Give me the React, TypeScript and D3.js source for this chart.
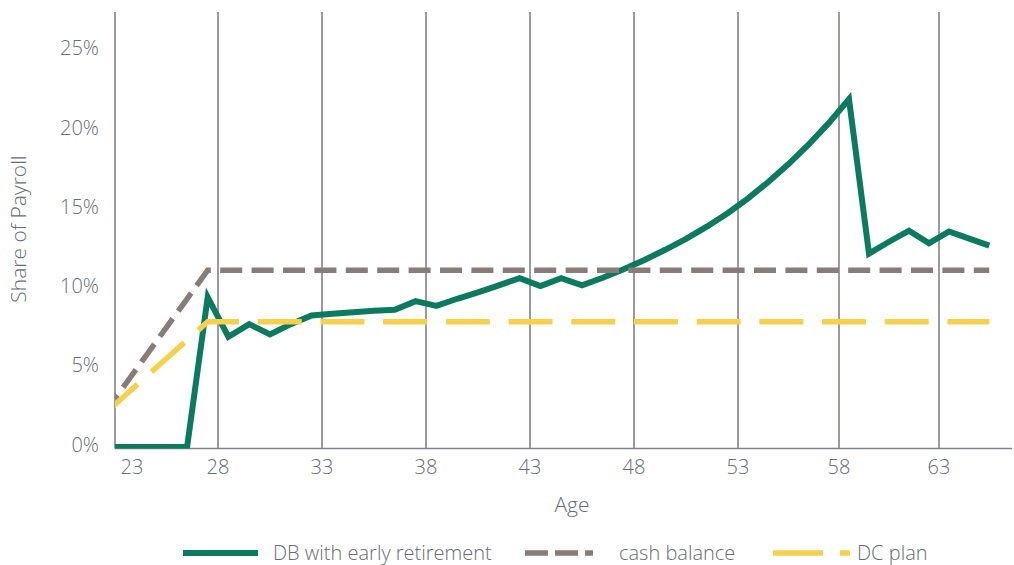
import React, { useEffect, useRef } from 'react';
import * as d3 from 'd3';

// age 22 sits just left of the plot and is clipped, the lines enter from the edge
const ages = [22, 23, 24, 25, 26, 27, 28, 29, 30, 31, 32, 33, 34, 35, 36, 37, 38, 39, 40, 41, 42, 43,
  44, 45, 46, 47, 48, 49, 50, 51, 52, 53, 54, 55, 56, 57, 58, 59, 60, 61, 62, 63, 64, 65];

const dbEarly = [-0.15, -0.15, -0.15, -0.15, -0.15, 9.3, 6.8, 7.6, 6.95, 7.6, 8.15, 8.25, 8.35, 8.45, 8.5,
  9.05, 8.75, 9.2, 9.6, 10.05, 10.5, 10.0, 10.5, 10.05, 10.53, 11.06, 11.65, 12.29, 12.98, 13.75, 14.6,
  15.54, 16.57, 17.7, 18.94, 20.3, 21.8, 12.05, 12.8, 13.5, 12.7, 13.45, 13.0, 12.55];

const cashBalance = [2.0, 3.8, 5.6, 7.4, 9.2, 11, 11, 11, 11, 11, 11, 11, 11, 11, 11, 11, 11, 11, 11, 11,
  11, 11, 11, 11, 11, 11, 11, 11, 11, 11, 11, 11, 11, 11, 11, 11, 11, 11, 11, 11, 11, 11, 11, 11];

const dcPlan = [1.95, 3.11, 4.27, 5.43, 6.59, 7.75, 7.75, 7.75, 7.75, 7.75, 7.75, 7.75, 7.75, 7.75, 7.75,
  7.75, 7.75, 7.75, 7.75, 7.75, 7.75, 7.75, 7.75, 7.75, 7.75, 7.75, 7.75, 7.75, 7.75, 7.75, 7.75, 7.75,
  7.75, 7.75, 7.75, 7.75, 7.75, 7.75, 7.75, 7.75, 7.75, 7.75, 7.75, 7.75];

const ageTicks = [23, 28, 33, 38, 43, 48, 53, 58, 63];
const shareTicks = [0, 5, 10, 15, 20, 25];

const seriesNames = ['DB with early retirement', 'cash balance', 'DC plan'];

const App = () => {
  const ref = useRef<SVGSVGElement | null>(null);

  useEffect(() => {
    document.body.style.margin = '0';
    if (!ref.current) return;
    const width = 1014;
    const height = 565;
    const left = 115, right = 1012, top = 12, bottom = 448.5;
    const font = "'Open Sans', sans-serif";
    const textColor = '#686c74';
    const gridColor = '#7f838b';

    const svg = d3.select(ref.current);
    svg.selectAll('*').remove();
    svg.attr('width', width).attr('height', height);

    // ages sit in the middle of their yearly slot, gridlines on slot edges
    // (the original axis is slightly uneven, so the scale is piecewise)
    const x = d3.scaleLinear()
      .domain([22.5, 27.5, 32.5, 37.5, 42.5, 47.5, 52.5, 57.5, 62.5, 66.13])
      .range([left, 218, 322, 426, 530, 634, 738, 839, 939, right]);
    const y = d3.scaleLinear().domain([-0.25, 27.3]).range([bottom, top]);

    svg.append('defs').append('clipPath').attr('id', 'plot')
      .append('rect').attr('x', left).attr('y', 0).attr('width', right - left).attr('height', bottom);

    // vertical gridlines
    svg.append('g').selectAll('line')
      .data(ageTicks)
      .enter()
      .append('line')
      .attr('x1', d => x(d - 0.5))
      .attr('x2', d => x(d - 0.5))
      .attr('y1', top)
      .attr('y2', bottom)
      .attr('stroke', gridColor)
      .attr('stroke-width', 1.6);

    svg.append('line')
      .attr('x1', left).attr('x2', right)
      .attr('y1', bottom).attr('y2', bottom)
      .attr('stroke', gridColor)
      .attr('stroke-width', 1.6);

    // x tick labels
    svg.append('g').selectAll('text')
      .data(ageTicks)
      .enter()
      .append('text')
      .attr('x', d => Math.max(x(d - 0.5), left + 17))
      .attr('y', 474)
      .attr('text-anchor', 'middle')
      .attr('fill', textColor)
      .style('font-family', font)
      .style('font-weight', 300)
      .style('font-size', '20px')
      .text(d => d);

    // y tick labels
    svg.append('g').selectAll('text')
      .data(shareTicks)
      .enter()
      .append('text')
      .attr('x', 99)
      .attr('y', d => y(d))
      .attr('dy', '0.35em')
      .attr('text-anchor', 'end')
      .attr('fill', textColor)
      .style('font-family', font)
      .style('font-weight', 300)
      .style('font-size', '20px')
      .text(d => d + '%');

    svg.append('text')
      .attr('x', 572)
      .attr('y', 511.5)
      .attr('text-anchor', 'middle')
      .attr('fill', textColor)
      .style('font-family', font)
      .style('font-weight', 300)
      .style('font-size', '21px')
      .text('Age');

    svg.append('text')
      .attr('transform', 'translate(25.5,229) rotate(-90)')
      .attr('text-anchor', 'middle')
      .attr('fill', textColor)
      .style('font-family', font)
      .style('font-weight', 300)
      .style('font-size', '21px')
      .text('Share of Payroll');

    const series = [
      { name: seriesNames[0], values: dbEarly, color: '#0b7a5f', width: 6, dash: null, legendDash: null, lx: 183, lw: 75, tx: 273 },
      { name: seriesNames[1], values: cashBalance, color: '#877c78', width: 5.5, dash: '22,9.4', legendDash: '23,7', lx: 525, lw: 68, tx: 619 },
      { name: seriesNames[2], values: dcPlan, color: '#f5d04c', width: 5.5, dash: '44,18.7', legendDash: '50,17', lx: 773, lw: 77, tx: 857 },
    ];

    const line = d3.line<number>()
      .x((d, i) => x(ages[i]))
      .y(d => y(d));

    const plot = svg.append('g').attr('clip-path', 'url(#plot)');
    series.forEach(s => {
      plot.append('path')
        .attr('d', line(s.values))
        .attr('fill', 'none')
        .attr('stroke', s.color)
        .attr('stroke-width', s.width)
        .attr('stroke-linejoin', 'miter')
        .attr('stroke-dasharray', s.dash);
    });

    // legend
    const legend = svg.append('g');
    series.forEach(s => {
      legend.append('line')
        .attr('x1', s.lx).attr('x2', s.lx + s.lw)
        .attr('y1', 553).attr('y2', 553)
        .attr('stroke', s.color)
        .attr('stroke-width', s.width)
        .attr('stroke-dasharray', s.legendDash);
      legend.append('text')
        .attr('x', s.tx)
        .attr('y', 553)
        .attr('dy', '0.35em')
        .attr('fill', textColor)
        .style('font-family', font)
        .style('font-weight', 300)
        .style('font-size', '20px')
        .text(s.name);
    });
  }, []);

  return <svg ref={ref} style={{ display: 'block' }} />;
};

export default App;
